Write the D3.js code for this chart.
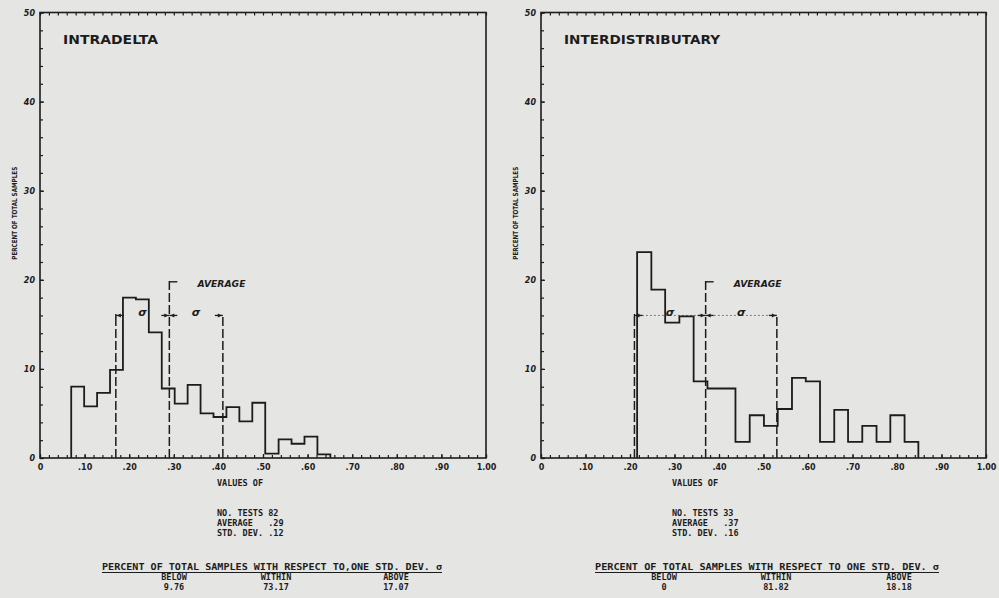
<!DOCTYPE html>
<html>
<head>
<meta charset="utf-8">
<script src="https://cdn.jsdelivr.net/npm/d3@7"></script>
<style>
  html, body { margin: 0; padding: 0; background: #e5e5e3; }
  svg { display: block; }
  text { white-space: pre; }
</style>
</head>
<body>
<div id="chart"></div>
<script>
// x ticks (value scale 0 - 1.00)
const xTickValues = [0, 0.1, 0.2, 0.3, 0.4, 0.5, 0.6, 0.7, 0.8, 0.9, 1.0];
const xTickLabels = ['0', '.10', '.20', '.30', '.40', '.50', '.60', '.70', '.80', '.90', '1.00'];
const yTickValues = [0, 10, 20, 30, 40, 50];

// INTRADELTA - bin edges and percent of samples
const intraEdges = [0.070, 0.099, 0.128, 0.157, 0.186, 0.215, 0.244, 0.273, 0.302, 0.331, 0.360,
  0.389, 0.418, 0.447, 0.476, 0.505, 0.535, 0.564, 0.593, 0.622, 0.651];
const intraPct = [8.0, 5.8, 7.3, 9.9, 18.0, 17.8, 14.1, 7.8, 6.1, 8.2,
  5.0, 4.6, 5.7, 4.1, 6.2, 0.5, 2.1, 1.6, 2.4, 0.4];
const intraStats = { tests: '82', average: '.29', std: '.12', mean: 0.29, sd: 0.12 };
const intraSplit = ['9.76', '73.17', '17.07'];

// INTERDISTRIBUTARY
const interEdges = [0.216, 0.248, 0.279, 0.311, 0.343, 0.374, 0.406, 0.437, 0.469, 0.501, 0.532,
  0.564, 0.595, 0.627, 0.659, 0.690, 0.722, 0.754, 0.785, 0.817, 0.848];
const interPct = [23.1, 18.9, 15.2, 15.9, 8.6, 7.8, 7.8, 1.8, 4.8, 3.6,
  5.5, 9.0, 8.6, 1.8, 5.4, 1.8, 3.6, 1.8, 4.8, 1.8];
const interStats = { tests: '33', average: '.37', std: '.16', mean: 0.37, sd: 0.16 };
const interSplit = ['0', '81.82', '18.18'];

const splitHeads = ['BELOW', 'WITHIN', 'ABOVE'];

const W = 999, H = 598;
const ink = '#1c1c1c';
const sans = '"DejaVu Sans", sans-serif';
const mono = '"DejaVu Sans Mono", monospace';

const svg = d3.select('#chart').append('svg')
  .attr('width', W).attr('height', H);

svg.append('rect').attr('width', W).attr('height', H).attr('fill', '#e5e5e3');

const panels = [
  {
    title: 'INTRADELTA', titleLen: 95, left: 40, right: 486,
    edges: intraEdges, pct: intraPct, stats: intraStats, split: intraSplit,
    dotted: false, statsX: 217, headX: 102, headLen: 340,
    header: 'PERCENT OF TOTAL SAMPLES WITH RESPECT TO,ONE STD. DEV. σ',
    cols: [174, 276, 396]
  },
  {
    title: 'INTERDISTRIBUTARY', titleLen: 156, left: 541, right: 986,
    edges: interEdges, pct: interPct, stats: interStats, split: interSplit,
    dotted: true, statsX: 672, headX: 595, headLen: 344,
    header: 'PERCENT OF TOTAL SAMPLES WITH RESPECT TO ONE STD. DEV. σ',
    cols: [664, 776, 899]
  }
];

panels.forEach(drawPanel);

function drawPanel(p) {
  const x = d3.scaleLinear().domain([0, 1]).range([p.left, p.right]);
  const y = d3.scaleLinear().domain([0, 50]).range([458, 12.5]);
  const g = svg.append('g');

  // minor ticks
  const xMinor = d3.range(0, 1.001, 0.02);
  const yMinor = d3.range(0, 50.1, 2);

  g.append('g').attr('transform', `translate(0,${y(0)})`)
    .call(d3.axisBottom(x).tickValues(xMinor).tickSize(-3).tickFormat(''))
    .call(a => a.select('.domain').remove());
  g.append('g').attr('transform', `translate(0,${y(50)})`)
    .call(d3.axisTop(x).tickValues(xMinor).tickSize(-3).tickFormat(''))
    .call(a => a.select('.domain').remove());
  g.append('g').attr('transform', `translate(${x(0)},0)`)
    .call(d3.axisLeft(y).tickValues(yMinor).tickSize(-3).tickFormat(''))
    .call(a => a.select('.domain').remove());

  // major ticks + labels
  const xAxis = g.append('g').attr('transform', `translate(0,${y(0)})`)
    .call(d3.axisBottom(x).tickValues(xTickValues).tickSize(-4).tickPadding(6)
      .tickFormat((d, i) => xTickLabels[i]));
  xAxis.select('.domain').remove();
  xAxis.selectAll('text').attr('font-family', sans).attr('font-weight', 'bold')
    .attr('font-size', 8).attr('fill', ink);

  const yAxis = g.append('g').attr('transform', `translate(${x(0)},0)`)
    .call(d3.axisLeft(y).tickValues(yTickValues).tickSize(-4).tickPadding(5));
  yAxis.select('.domain').remove();
  yAxis.selectAll('text').attr('font-family', sans).attr('font-weight', 'bold')
    .attr('font-style', 'italic').attr('font-size', 8).attr('fill', ink);

  g.selectAll('.tick line').attr('stroke', ink).attr('stroke-width', 1.2);

  // frame
  g.append('rect')
    .attr('x', x(0)).attr('y', y(50))
    .attr('width', x(1) - x(0)).attr('height', y(0) - y(50))
    .attr('fill', 'none').attr('stroke', ink).attr('stroke-width', 1.6);

  // y title
  g.append('text')
    .attr('transform', `translate(${x(0) - 23},${(y(0) + y(50)) / 2 - 22}) rotate(-90)`)
    .attr('text-anchor', 'middle')
    .attr('font-family', sans).attr('font-weight', 'bold').attr('font-size', 7)
    .attr('textLength', 93).attr('lengthAdjust', 'spacingAndGlyphs')
    .attr('fill', ink)
    .text('PERCENT OF TOTAL SAMPLES');

  // title
  g.append('text')
    .attr('x', x(0) + 23).attr('y', 44)
    .attr('font-family', sans).attr('font-weight', 'bold').attr('font-size', 11.5)
    .attr('textLength', p.titleLen).attr('lengthAdjust', 'spacingAndGlyphs')
    .attr('fill', ink)
    .text(p.title);

  // histogram outline
  const pts = [[p.edges[0], 0]];
  p.pct.forEach((v, i) => pts.push([p.edges[i], v]));
  pts.push([p.edges[p.edges.length - 1], 0]);
  const line = d3.line()
    .x(d => x(d[0])).y(d => y(d[1]))
    .curve(d3.curveStepAfter);
  g.append('path')
    .attr('d', line(pts))
    .attr('fill', 'none').attr('stroke', ink).attr('stroke-width', 1.8);

  // mean and +/- one std. dev. lines
  const lo = p.stats.mean - p.stats.sd;
  const hi = p.stats.mean + p.stats.sd;
  const mean = p.stats.mean;
  const dashed = [
    { v: lo, top: 16 }, { v: mean, top: 20 }, { v: hi, top: 16 }
  ];
  g.selectAll('line.sd').data(dashed).enter().append('line')
    .attr('class', 'sd')
    .attr('x1', d => x(d.v)).attr('x2', d => x(d.v))
    .attr('y1', y(0)).attr('y2', d => y(d.top))
    .attr('stroke', ink).attr('stroke-width', 1.5)
    .attr('stroke-dasharray', '9,3');

  const yS = y(16);
  if (p.dotted) {
    g.append('line')
      .attr('x1', x(lo)).attr('x2', x(hi)).attr('y1', yS).attr('y2', yS)
      .attr('stroke', ink).attr('stroke-width', 1).attr('stroke-dasharray', '1,3');
  }
  // short caps with arrowheads pointing at the lines
  const caps = [
    { v: lo, dir: 1 }, { v: mean, dir: -1 }, { v: mean, dir: 1 }, { v: hi, dir: -1 }
  ];
  caps.forEach(c => {
    const x0 = x(c.v);
    g.append('line')
      .attr('x1', x0).attr('x2', x0 + c.dir * 8).attr('y1', yS).attr('y2', yS)
      .attr('stroke', ink).attr('stroke-width', 1.3);
    g.append('path')
      .attr('d', `M${x0 + c.dir * 1},${yS} L${x0 + c.dir * 5},${yS - 2} L${x0 + c.dir * 5},${yS + 2} Z`)
      .attr('fill', ink);
  });
  g.append('line')
    .attr('x1', x(lo)).attr('x2', x(lo)).attr('y1', yS - 1.5).attr('y2', yS + 2)
    .attr('stroke', ink).attr('stroke-width', 1.4);

  // sigma labels
  [(lo + mean) / 2, (mean + hi) / 2].forEach(v => {
    g.append('text')
      .attr('x', x(v)).attr('y', yS + 1)
      .attr('text-anchor', 'middle')
      .attr('font-family', sans).attr('font-style', 'italic').attr('font-weight', 'bold')
      .attr('font-size', 11).attr('fill', ink)
      .text('σ');
  });

  // AVERAGE marker
  const yA = y(20);
  g.append('line')
    .attr('x1', x(mean)).attr('x2', x(mean) + 8).attr('y1', yA + 2).attr('y2', yA + 2)
    .attr('stroke', ink).attr('stroke-width', 1.4);
  g.append('text')
    .attr('x', x(mean + 0.063)).attr('y', yA + 7)
    .attr('font-family', sans).attr('font-style', 'italic').attr('font-weight', 'bold')
    .attr('font-size', 8.5).attr('textLength', 48).attr('lengthAdjust', 'spacingAndGlyphs')
    .attr('fill', ink)
    .text('AVERAGE');

  // text block under chart
  const txt = (tx, ty, s, opts = {}) => g.append('text')
    .attr('x', tx).attr('y', ty)
    .attr('font-family', mono).attr('font-weight', 'bold')
    .attr('font-size', opts.size || 8.5)
    .attr('text-anchor', opts.anchor || 'start')
    .attr('xml:space', 'preserve')
    .attr('fill', ink)
    .text(s);

  txt(p.statsX, 486, 'VALUES OF');
  txt(p.statsX, 516, 'NO. TESTS ' + p.stats.tests);
  txt(p.statsX, 526, 'AVERAGE   ' + p.stats.average);
  txt(p.statsX, 536, 'STD. DEV. ' + p.stats.std);

  txt(p.headX, 570, p.header)
    .attr('textLength', p.headLen).attr('lengthAdjust', 'spacingAndGlyphs');
  g.append('line')
    .attr('x1', p.headX).attr('x2', p.headX + p.headLen)
    .attr('y1', 572.5).attr('y2', 572.5)
    .attr('stroke', ink).attr('stroke-width', 1.2);

  splitHeads.forEach((h, i) => txt(p.cols[i], 580, h, { anchor: 'middle' }));
  p.split.forEach((v, i) => txt(p.cols[i], 590, v, { anchor: 'middle' }));
}
</script>
</body>
</html>
